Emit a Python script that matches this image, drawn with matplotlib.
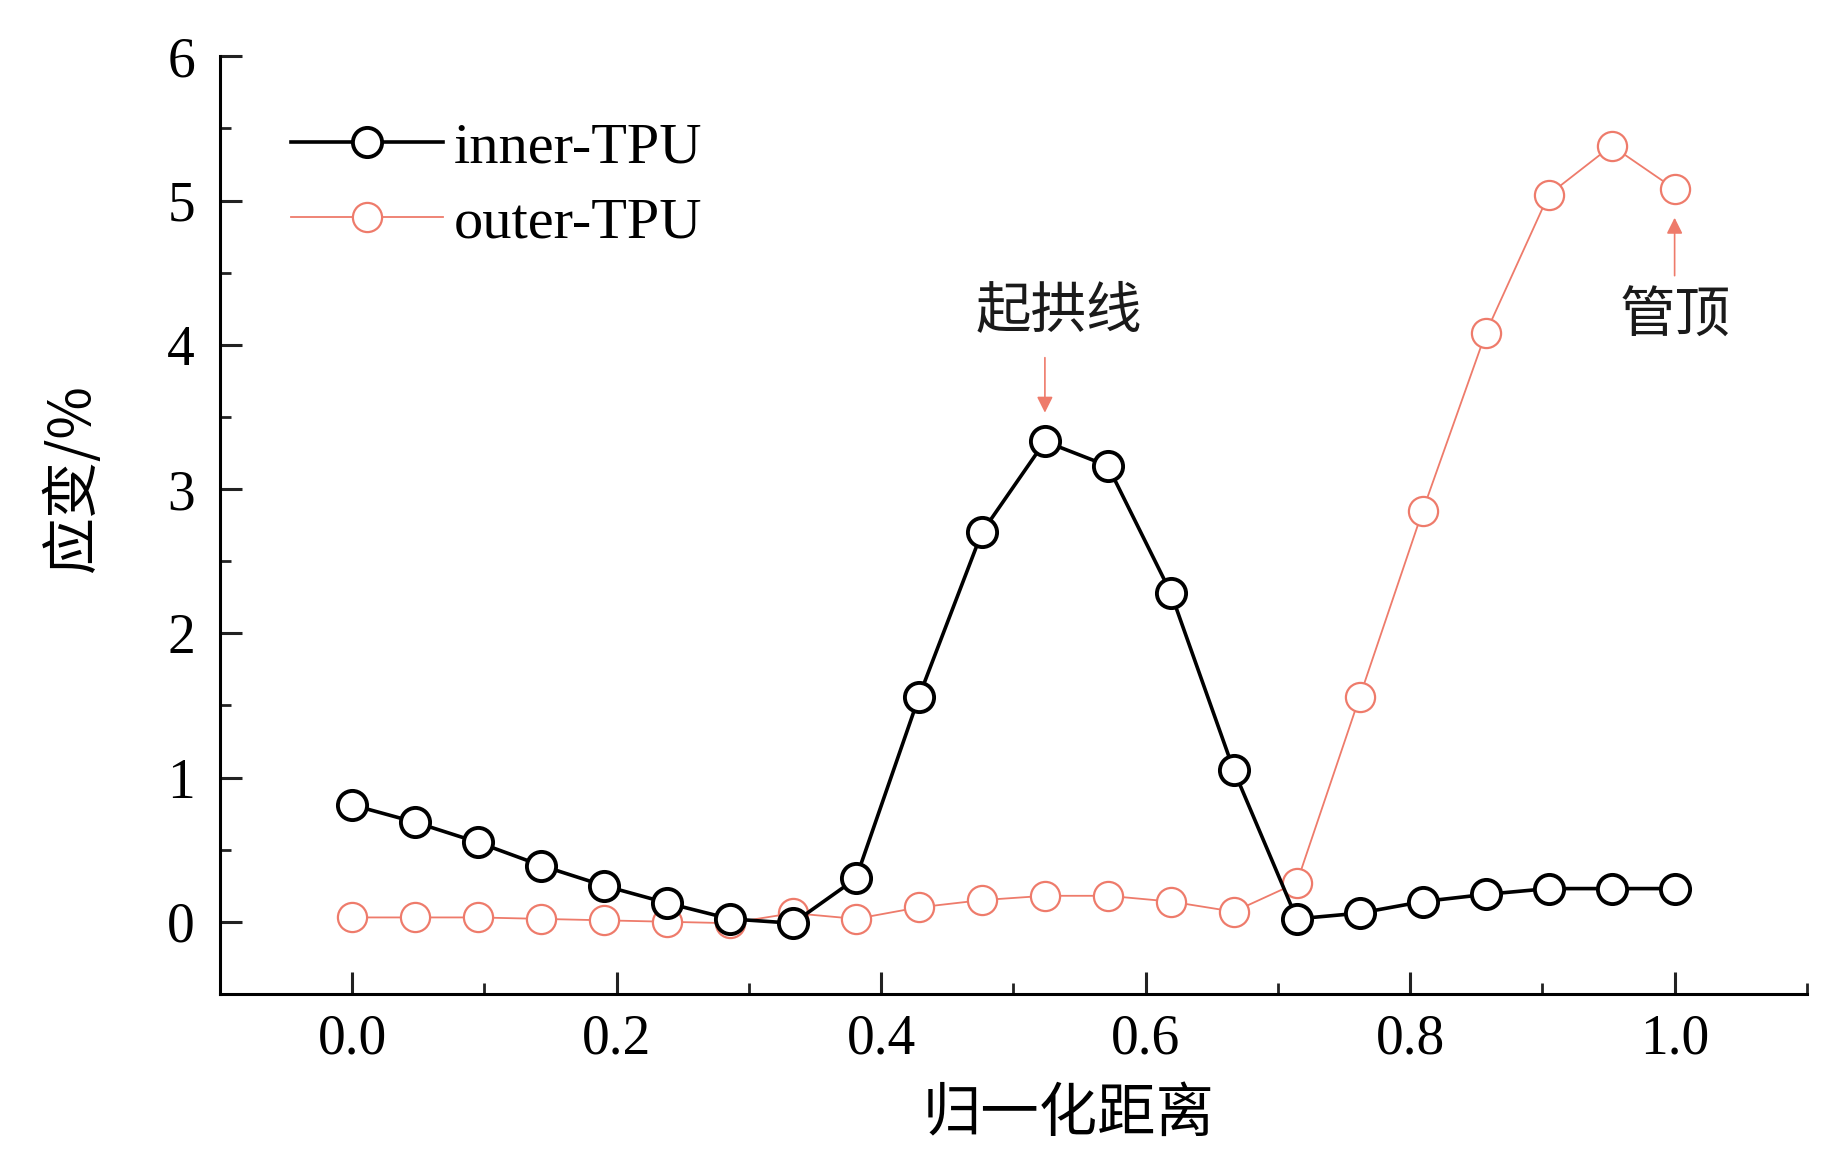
import numpy as np
from matplotlib import pyplot as plt
from matplotlib.ticker import MultipleLocator

plt.rcParams['font.family'] = ['Liberation Serif', 'Noto Sans CJK SC']

# normalised distance, 22 measuring points
x = np.arange(22) / 21.0
inner = [0.81, 0.69, 0.55, 0.39, 0.25, 0.13, 0.02, -0.01, 0.30, 1.56, 2.70,
         3.33, 3.16, 2.28, 1.05, 0.02, 0.06, 0.14, 0.19, 0.23, 0.23, 0.23]
outer = [0.03, 0.03, 0.03, 0.02, 0.01, 0.00, -0.01, 0.06, 0.02, 0.10, 0.15,
         0.18, 0.18, 0.14, 0.07, 0.27, 1.56, 2.85, 4.08, 5.04, 5.38, 5.08]
red = '#EE7B6B'

fig = plt.figure(figsize=(18.24, 11.49), dpi=100)
ax = fig.add_axes([0.1206, 0.135, 0.87, 0.816])

ax.plot(x, inner, '-o', color='k', lw=2.6, ms=21, mew=2.8, mfc='white',
        label='inner-TPU', zorder=3)
ax.plot(x, outer, '-o', color=red, lw=1.3, ms=21, mew=1.6, mfc='white',
        label='outer-TPU', zorder=2)

ax.set_xlim(-0.1, 1.1)
ax.set_ylim(-0.5, 6)
ax.xaxis.set_major_locator(MultipleLocator(0.2))
ax.xaxis.set_minor_locator(MultipleLocator(0.1))
ax.yaxis.set_major_locator(MultipleLocator(1))
ax.yaxis.set_minor_locator(MultipleLocator(0.5))
ax.set_xticks([0, 0.2, 0.4, 0.6, 0.8, 1.0])
ax.set_xticklabels(['0.0', '0.2', '0.4', '0.6', '0.8', '1.0'])
ax.set_yticks([0, 1, 2, 3, 4, 5, 6])

for s in ['top', 'right']:
    ax.spines[s].set_visible(False)
for s in ['left', 'bottom']:
    ax.spines[s].set_linewidth(2.2)
ax.tick_params(which='major', direction='in', length=16, width=2.2,
               labelsize=40, color='#222222')
ax.tick_params(which='minor', direction='in', length=8, width=2.0,
               color='#222222')
ax.tick_params(axis='x', which='major', pad=14)
ax.tick_params(axis='y', which='major', pad=18)

ax.set_xlabel('归一化距离', fontsize=42, family=['Noto Sans CJK SC'],
              va='center')
ax.xaxis.set_label_coords(0.535, -0.128)
ax.set_ylabel('应变/%', fontsize=41, family=['Noto Sans CJK SC'],
              va='center')
ax.yaxis.set_label_coords(-0.093, 0.551)

ax.legend(loc='upper left', bbox_to_anchor=(0.03, 0.955), frameon=False,
          fontsize=42, handlelength=2.6, handletextpad=0.2,
          labelspacing=0.38, borderaxespad=0)

ax.annotate('', xy=(x[11], 3.51), xytext=(x[11], 3.93),
            arrowprops=dict(arrowstyle='-|>', color=red, lw=1.2,
                            mutation_scale=24))
ax.text(0.534, 4.23, '起拱线', fontsize=40, ha='center', va='center',
        family=['Noto Sans CJK SC'], color='#1a1a1a')
ax.annotate('', xy=(x[21], 4.90), xytext=(x[21], 4.46),
            arrowprops=dict(arrowstyle='-|>', color=red, lw=1.2,
                            mutation_scale=24))
ax.text(x[21], 4.19, '管顶', fontsize=40, ha='center', va='center',
        family=['Noto Sans CJK SC'], color='#1a1a1a')

plt.savefig('out.png', dpi=100)
